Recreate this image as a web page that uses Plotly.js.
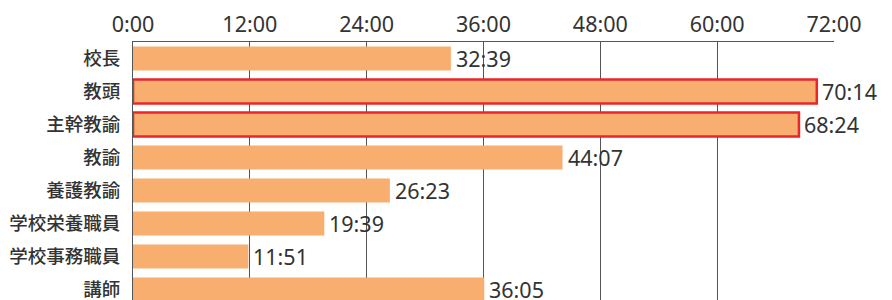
<!DOCTYPE html>
<html>
<head>
<meta charset="utf-8">
<script src="https://cdn.plot.ly/plotly-3.0.1.min.js"></script>
<style>
html,body{margin:0;padding:0;overflow:hidden;background:#fff;}
#chart{width:892px;height:320px;}
</style>
</head>
<body>
<div id="chart"></div>
<script>
const categories = ["校長","教頭","主幹教諭","教諭","養護教諭","学校栄養職員","学校事務職員","講師"];
const timeLabels = ["32:39","70:14","68:24","44:07","26:23","19:39","11:51","36:05"];
const highlighted = [false,true,true,false,false,false,false,false];
const tickVals = [0,12,24,36,48,60,72];
const tickText = ["0:00","12:00","24:00","36:00","48:00","60:00","72:00"];

function toHours(s){const p=s.split(":");return Number(p[0])+Number(p[1])/60;}
const hours = timeLabels.map(toHours);

const LATIN = "Noto Sans, Noto Sans CJK JP, sans-serif";
const CJK = "Noto Sans CJK JP, Noto Sans, sans-serif";

const trace = {
  type:"bar",
  orientation:"h",
  y:categories,
  x:hours,
  cliponaxis:false,
  marker:{
    color:"#F8AE6F",
    line:{color:highlighted.map(h=>h?"#E8262B":"rgba(0,0,0,0)"),width:highlighted.map(h=>h?2.5:0)}
  },
  hoverinfo:"none"
};

const annotations = categories.map((c,i)=>({
  x:hours[i], y:c, xref:"x", yref:"y",
  text:timeLabels[i], showarrow:false,
  xanchor:"left", yanchor:"middle", xshift:3, yshift:0,
  font:{family:LATIN,size:21.5,color:"#333333"}
}));

const layout = {
  width:892,height:320,
  margin:{l:133,r:58,t:42,b:14},
  paper_bgcolor:"#ffffff",plot_bgcolor:"#ffffff",
  showlegend:false,
  bargap:0.28,
  font:{family:LATIN,color:"#333333"},
  annotations:annotations,
  xaxis:{
    side:"top",range:[0,72],tickvals:tickVals,ticktext:tickText,
    showgrid:true,gridcolor:"#555555",gridwidth:1,
    showline:true,linecolor:"#555555",linewidth:1,
    zeroline:false,ticks:"",ticklen:0,
    tickfont:{family:LATIN,size:21.5,color:"#333333"},fixedrange:true
  },
  yaxis:{
    autorange:"reversed",showgrid:false,showline:true,linecolor:"#555555",linewidth:1,
    ticks:"",ticklen:0,ticklabelstandoff:8,
    tickfont:{family:CJK,size:18.5,weight:500,color:"#333333"},zeroline:false,fixedrange:true
  }
};

Plotly.newPlot("chart",[trace],layout,{displayModeBar:false,staticPlot:true});
</script>
</body>
</html>
